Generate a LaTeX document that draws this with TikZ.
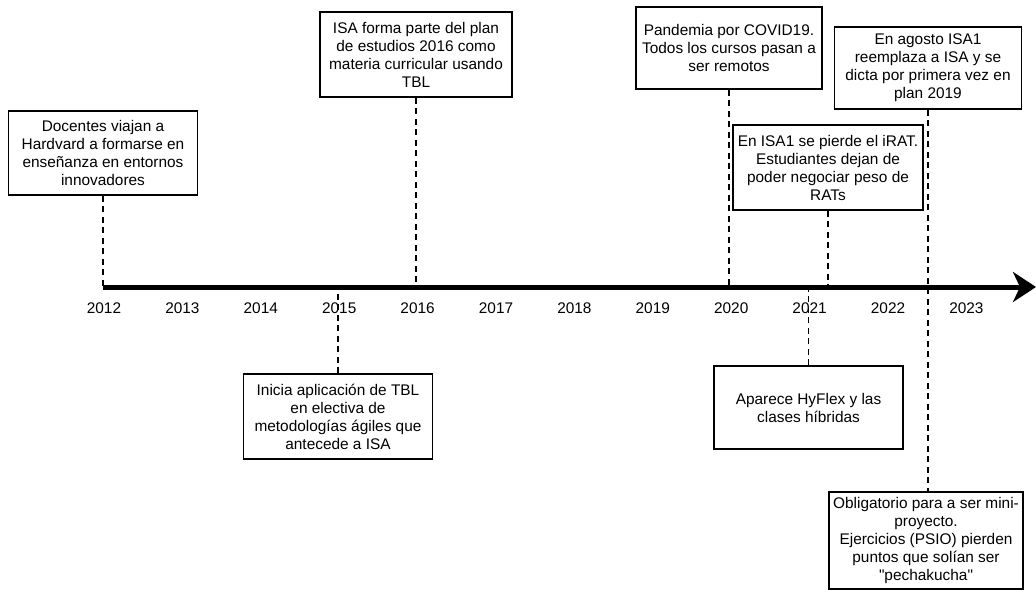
\documentclass[tikz,border=0pt]{standalone}
\usepackage{fontspec}
\setmainfont{Liberation Sans}[Ligatures=TeXOff]
\usetikzlibrary{arrows.meta,calc}
\begin{document}
\begin{tikzpicture}[x=1pt,y=1pt,
  evbox/.style={draw=black,line width=1.5pt,fill=white,align=center,inner sep=1pt,
    font=\fontsize{15.4}{18}\selectfont},
  conn/.style={draw=black,line width=1.7pt,dash pattern=on 6pt off 4.5pt},
  yearlbl/.style={font=\fontsize{15.4}{18}\selectfont,inner sep=0pt},
  axisline/.style={line width=5pt,-{Stealth[length=23pt,width=30pt,inset=7pt]}}
]
\useasboundingbox (0,0) rectangle (1036,-592);
\coordinate (axL) at (103,-287);
\coordinate (axR) at (1036,-287);
% axis
\draw[axisline] (axL) -- (axR);
% years
\foreach \i/\yr in {0/2012,1/2013,2/2014,3/2015,4/2016,5/2017,6/2018,7/2019,8/2020,9/2021,10/2022,11/2023}{
  \node[yearlbl] (y\yr) at ({104+78.4*\i},-308) {\yr};
}
% boxes
\node[evbox,minimum width=189pt,minimum height=84pt] (b1) at (103,-153)
  {Docentes viajan a\\Hardvard a formarse en\\enseñanza en entornos\\innovadores};
\node[evbox,minimum width=192pt,minimum height=85pt] (b2) at (416,-54.5)
  {ISA forma parte del plan\\de estudios 2016 como\\materia curricular usando\\TBL};
\node[evbox,minimum width=186pt,minimum height=82pt] (b3) at (729,-48)
  {Pandemia por COVID19.\\Todos los cursos pasan a\\ser remotos};
\node[evbox,minimum width=187pt,minimum height=82pt] (b4) at (928,-68)
  {En agosto ISA1\\reemplaza a ISA y se\\dicta por primera vez en\\plan 2019};
\node[evbox,minimum width=190pt,minimum height=85pt] (b5) at (828,-167.5)
  {En ISA1 se pierde el iRAT.\\Estudiantes dejan de\\poder negociar peso de\\RATs};
\node[evbox,minimum width=189pt,minimum height=85pt] (b6) at (338,-416.5)
  {Inicia aplicación de TBL\\en electiva de\\metodologías ágiles que\\antecede a ISA};
\node[evbox,minimum width=189pt,minimum height=83pt] (b7) at (808.5,-407.5)
  {Aparece HyFlex y las\\clases híbridas};
\node[evbox,minimum width=194pt,minimum height=97pt] (b8) at (926,-540.5)
  {Obligatorio para a ser mini-\\proyecto.\\Ejercicios (PSIO) pierden\\puntos que solían ser\\"pechakucha"};
% connectors
\draw[conn] (b1.south) -- (b1.south |- axL);
\draw[conn] (b2.south) -- (b2.south |- axL);
\draw[conn] (b3.south) -- (b3.south |- axL);
\draw[conn] (b5.south) -- (b5.south |- axL);
\draw[conn] (b4.south) -- (b4.south |- b8.north);
\draw[conn] (b6.north) -- (b6.north |- axL);
\draw[conn] (b7.north) -- (b7.north |- axL);
\end{tikzpicture}
\end{document}
